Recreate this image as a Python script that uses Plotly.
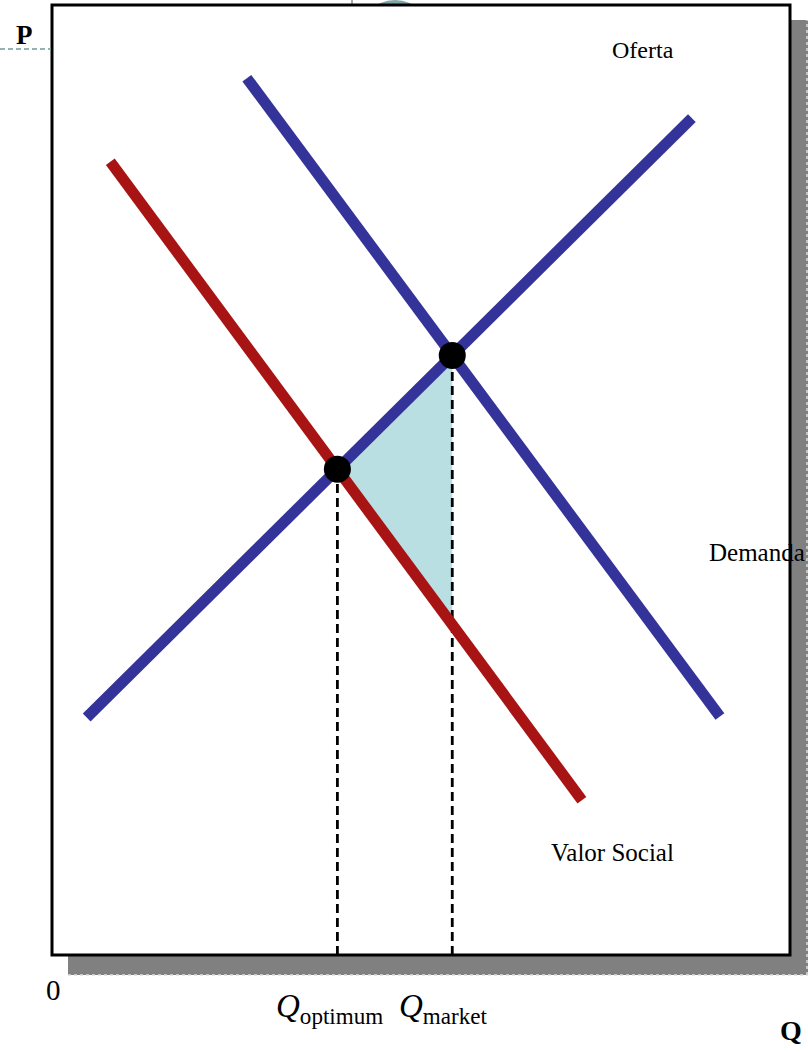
import numpy as np
import plotly.graph_objects as go

# curves (Q, P)
q_supply = [4.7, 86.7]
p_supply = [25.0, 88.1]
q_demand = [26.4, 90.5]
p_demand = [92.3, 25.1]
q_social = [7.9, 71.8]
p_social = [83.5, 16.3]

labels = ["Oferta", "Demanda", "Valor Social"]

BLUE = "#333399"
RED = "#a81414"
FILL = "#b9dfe3"
SERIF = "Liberation Serif, Times New Roman, serif"

W, H = 808, 1052
L, R, T, B = 52, 790, 5, 955


def line_coef(q, p):
    m = (p[1] - p[0]) / (q[1] - q[0])
    return m, p[0] - m * q[0]


def cross(a, b):
    m1, c1 = a
    m2, c2 = b
    q = (c2 - c1) / (m1 - m2)
    return q, m1 * q + c1


sup = line_coef(q_supply, p_supply)
dem = line_coef(q_demand, p_demand)
soc = line_coef(q_social, p_social)

q_mkt, p_mkt = cross(sup, dem)
q_opt, p_opt = cross(sup, soc)
p_soc_mkt = soc[0] * q_mkt + soc[1]


def px(x):
    return (x - L) / (R - L)


def py(y):
    return (B - y) / (B - T)


fig = go.Figure()

# deadweight loss triangle
fig.add_trace(go.Scatter(
    x=[q_opt, q_mkt, q_mkt, q_opt], y=[p_opt, p_mkt, p_soc_mkt, p_opt],
    fill="toself", fillcolor=FILL, mode="none", hoverinfo="skip"))

# dashed drop lines
for q, p in [(q_opt, p_opt), (q_mkt, p_mkt)]:
    fig.add_trace(go.Scatter(
        x=[q, q], y=[0, p], mode="lines",
        line=dict(color="black", width=2.8, dash="9px,5px")))

fig.add_trace(go.Scatter(x=q_social, y=p_social, mode="lines",
                         line=dict(color=RED, width=11)))
fig.add_trace(go.Scatter(x=q_demand, y=p_demand, mode="lines",
                         line=dict(color=BLUE, width=11)))
fig.add_trace(go.Scatter(x=q_supply, y=p_supply, mode="lines",
                         line=dict(color=BLUE, width=11)))

fig.add_trace(go.Scatter(x=[q_opt, q_mkt], y=[p_opt, p_mkt], mode="markers",
                         marker=dict(color="black", size=27)))

shapes = [
    # teal circle peeking above the frame
    dict(type="circle", xref="paper", yref="paper", layer="below",
         x0=px(357), x1=px(433), y0=py(76), y1=py(0),
         fillcolor="#7fa6a6", line=dict(width=0)),
    dict(type="line", xref="paper", yref="paper", layer="below",
         x0=px(352), x1=px(352), y0=py(0), y1=py(6),
         line=dict(color="#555", width=1)),
    # shadow
    dict(type="rect", xref="paper", yref="paper", layer="below",
         x0=px(68), x1=px(812), y0=py(975), y1=py(20),
         fillcolor="#808080", line=dict(width=0)),
    dict(type="line", xref="paper", yref="paper", layer="below",
         x0=px(68), x1=px(812), y0=py(975), y1=py(975),
         line=dict(color="#dddddd", width=1.5, dash="dot")),
    dict(type="line", xref="paper", yref="paper", layer="below",
         x0=px(807), x1=px(807), y0=py(975), y1=py(20),
         line=dict(color="#dddddd", width=1.5, dash="dot")),
    # white panel with frame
    dict(type="rect", xref="paper", yref="paper", layer="below",
         x0=0, x1=1, y0=0, y1=1,
         fillcolor="white", line=dict(color="black", width=3)),
    # dashed teal line at left
    dict(type="line", xref="paper", yref="paper", layer="below",
         x0=px(0), x1=px(51), y0=py(49), y1=py(49),
         line=dict(color="#6f9a98", width=1.5, dash="5px,3px")),
]

ann = [
    dict(text="<b>P</b>", x=px(24), y=py(35), size=27, xanchor="center"),
    dict(text=labels[0], x=px(610), y=py(50), size=24, xanchor="left"),
    dict(text=labels[1], x=px(707), y=py(553), size=25, xanchor="left"),
    dict(text=labels[2], x=px(549), y=py(852), size=25, xanchor="left"),
    dict(text="0", x=px(53), y=py(990), size=29, xanchor="center"),
    dict(text="<i>Q</i><sub>optimum</sub>", x=px(274), y=py(1008), size=33, xanchor="left"),
    dict(text="<i>Q</i><sub>market</sub>", x=px(397), y=py(1008), size=33, xanchor="left"),
    dict(text="<b>Q</b>", x=px(791), y=py(1030), size=28, xanchor="center"),
]

fig.update_layout(
    width=W, height=H,
    margin=dict(l=L, r=W - R, t=T, b=H - B),
    paper_bgcolor="white", plot_bgcolor="rgba(0,0,0,0)",
    showlegend=False,
    shapes=shapes,
    annotations=[dict(text=a["text"], x=a["x"], y=a["y"], xref="paper", yref="paper",
                      xanchor=a["xanchor"], yanchor="middle", showarrow=False,
                      font=dict(family=SERIF, size=a["size"], color="black"))
                 for a in ann],
    xaxis=dict(range=[0, 100], visible=False, fixedrange=True),
    yaxis=dict(range=[0, 100], visible=False, fixedrange=True),
)

fig.write_html("out.html", config={"displayModeBar": False},
               post_script="document.body.style.margin='0';")
